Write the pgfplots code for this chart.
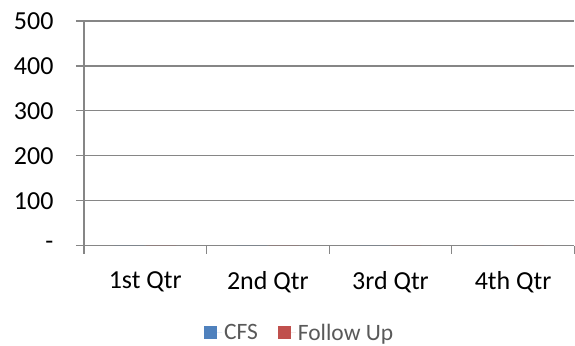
\documentclass[border=0pt]{standalone}
\usepackage{pgfplots}
\pgfplotsset{compat=1.18}
\usepackage{fontspec}
\setmainfont{Carlito}
\definecolor{cfs}{RGB}{79,129,189}
\definecolor{fup}{RGB}{192,80,77}
\definecolor{gridc}{RGB}{134,134,134}
\definecolor{legt}{RGB}{89,89,89}
\begin{document}
\begin{tikzpicture}
\begin{axis}[
  name=ax,
  scale only axis,
  width=491pt, height=225pt,
  xmin=0, xmax=4, ymin=0, ymax=500,
  axis x line*=bottom, axis y line*=left,
  axis line style={gridc, line width=1.2pt, -},
  ytick={0,100,200,300,400,500},
  yticklabels={-,100,200,300,400,500},
  ymajorgrids,
  major grid style={gridc, line width=1.2pt},
  xtick={0.5,1.5,2.5,3.5},
  xticklabels={1st Qtr,2nd Qtr,3rd Qtr,4th Qtr},
  minor xtick={0,1,2,3,4},
  tick align=outside,
  major x tick style={draw=none},
  major y tick style={gridc, line width=1.2pt},
  minor x tick style={gridc, line width=1.2pt},
  major tick length=8pt,
  minor tick length=8pt,
  yticklabel style={font=\fontsize{26}{30}\selectfont, xshift=-19pt},
  xticklabel style={font=\fontsize{26}{30}\selectfont, yshift=-14pt},
  /pgf/number format/assume math mode=true,
  ybar, bar width=30pt,
  legend style={at={(0.44,-0.387)}, anchor=center, draw=none, fill=none,
    legend columns=2, font=\fontsize{23.5}{28}\selectfont\color{legt},
    /tikz/every even column/.append style={column sep=18pt}},
  legend image code/.code={\fill[#1] (0pt,-6.5pt) rectangle (13pt,6.5pt); \path (0pt,0pt) -- (18pt,0pt);},
  clip=false,
]
\addplot[fill=cfs, draw=none] coordinates {(0.5,0) (1.5,0) (2.5,0) (3.5,0)};
\addplot[fill=fup, draw=none] coordinates {(0.5,0) (1.5,0) (2.5,0) (3.5,0)};
\legend{CFS, Follow Up}
\end{axis}
\path[use as bounding box] ([xshift=-84pt, yshift=-99pt]ax.south west) rectangle ([yshift=21pt]ax.north east);
\end{tikzpicture}
\end{document}
